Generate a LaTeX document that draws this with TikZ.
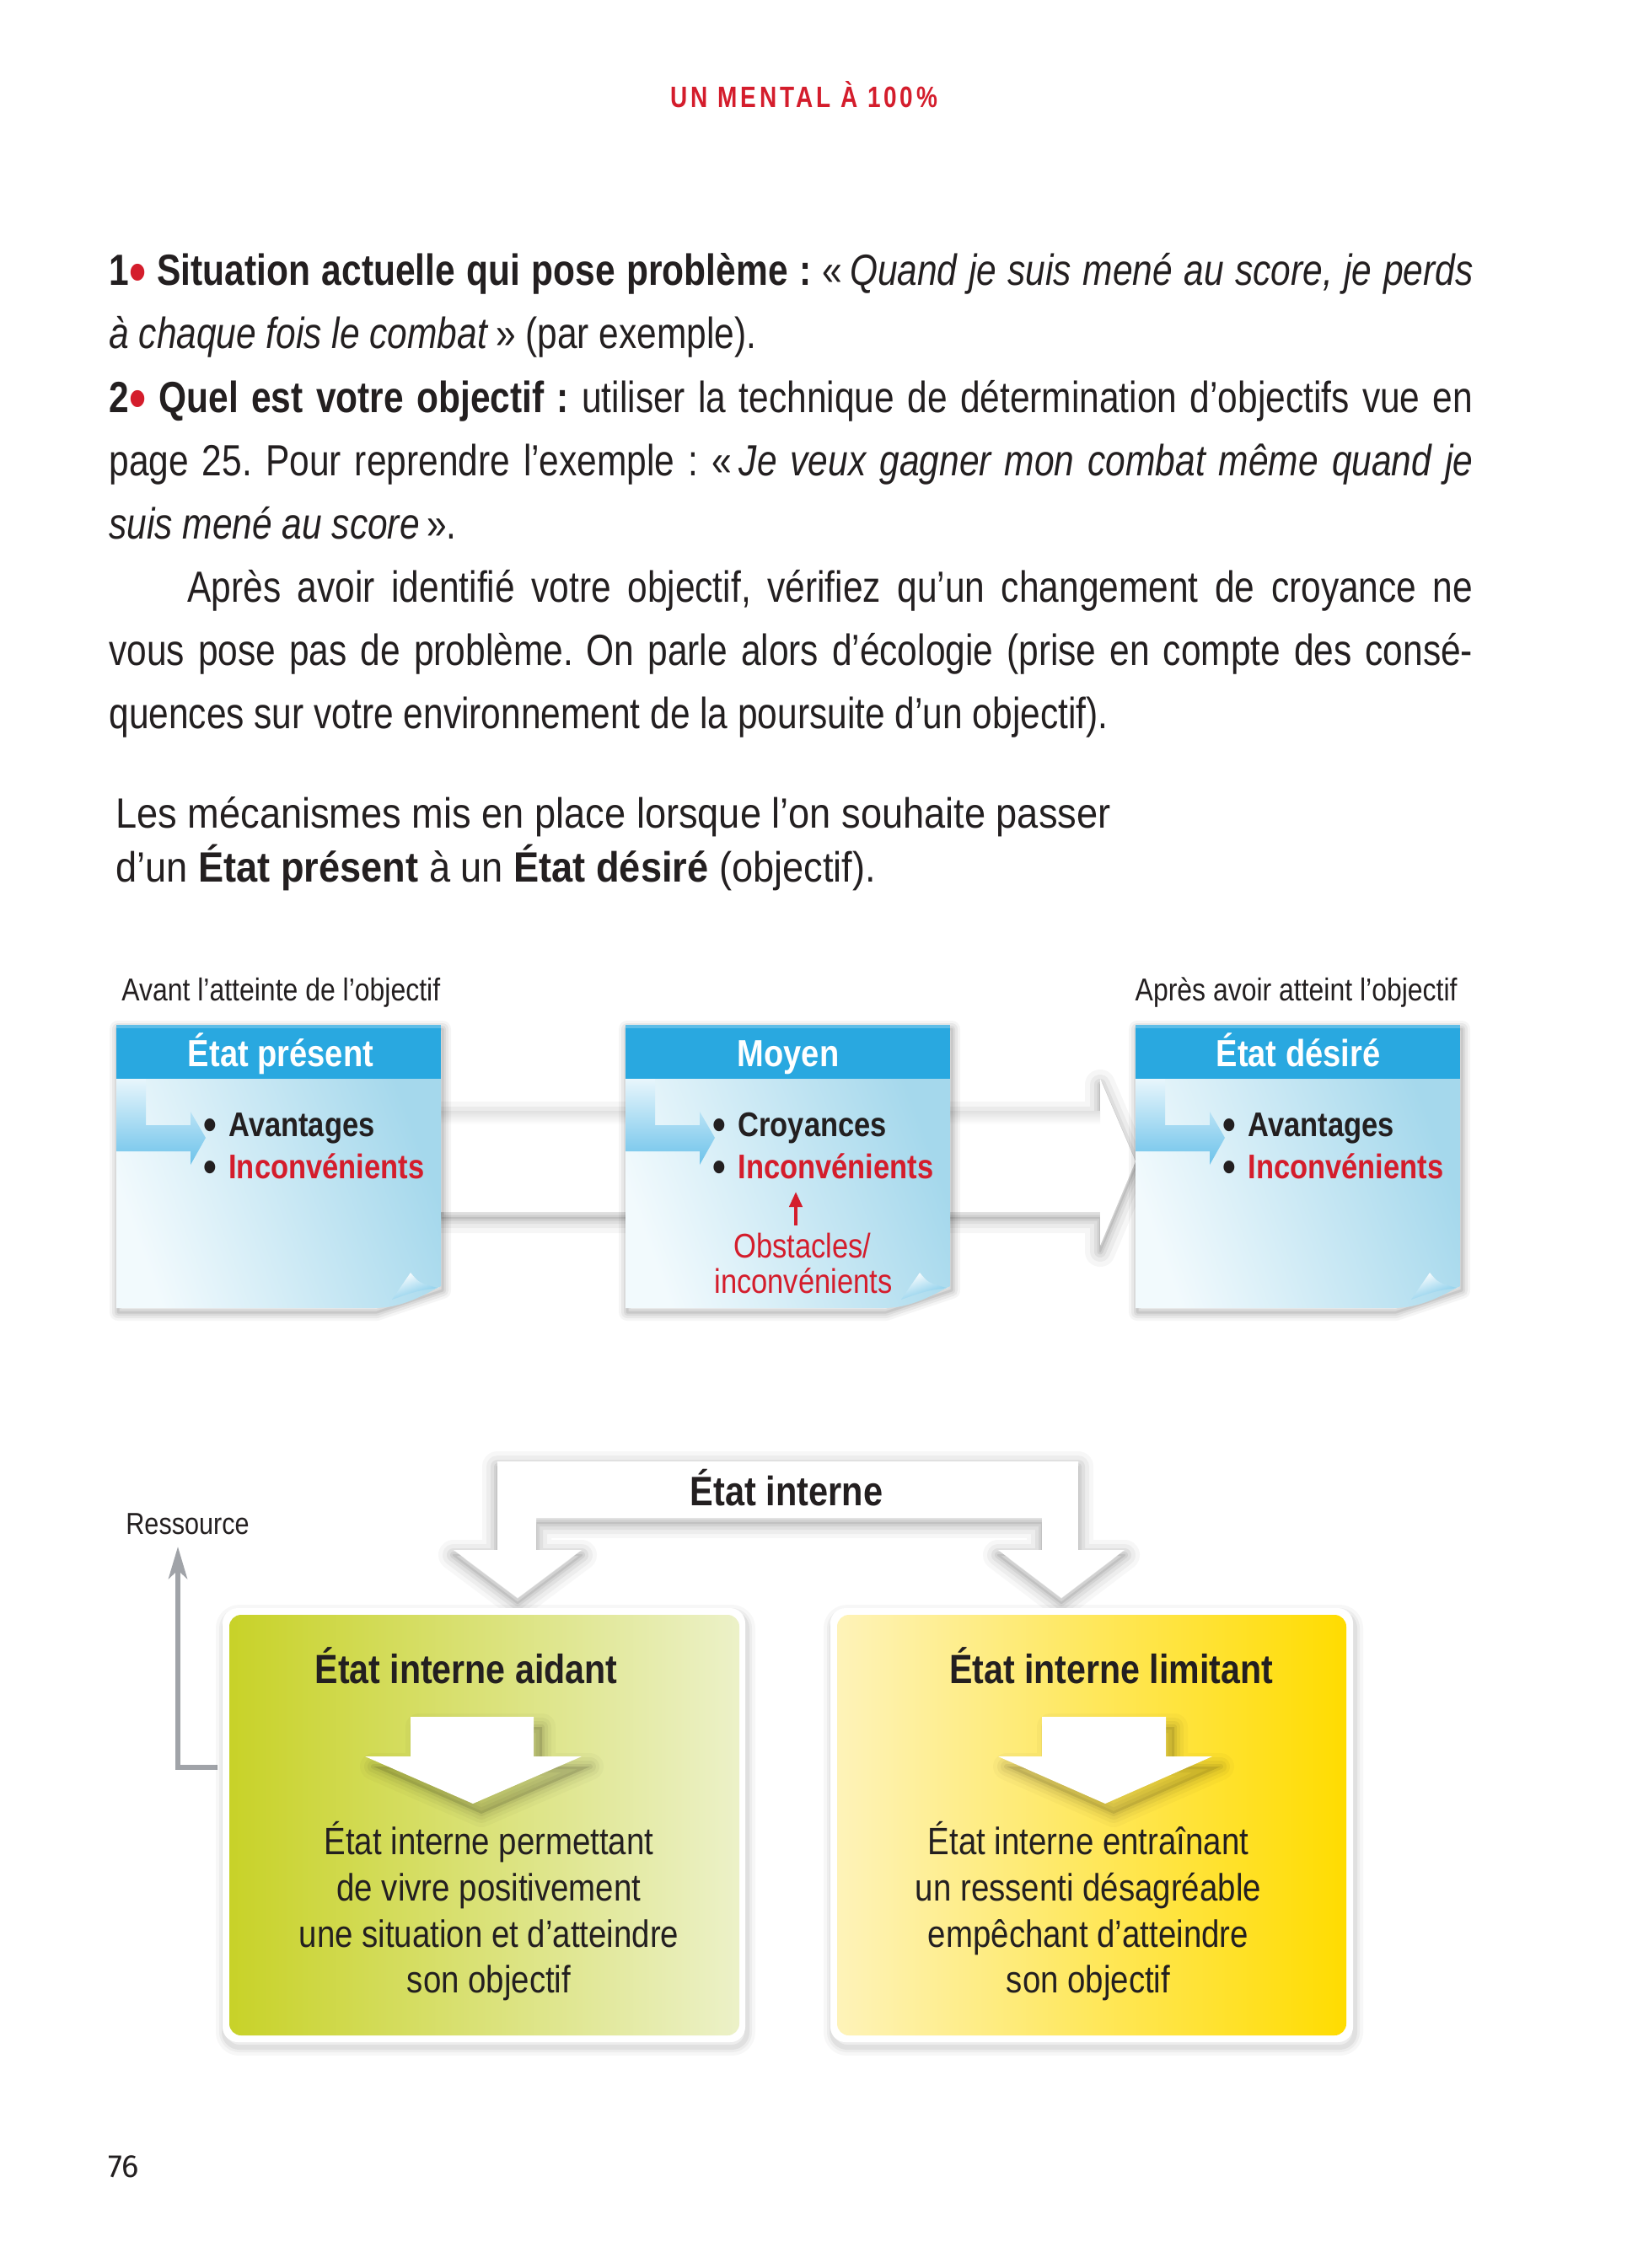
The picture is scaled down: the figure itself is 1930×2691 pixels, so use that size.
\documentclass[tikz,border=0pt]{standalone}
\usepackage{fontspec}
\usepackage{graphicx}
\setmainfont{Liberation Sans}
\newfontfamily\bodyff[FakeStretch=0.82]{Liberation Sans}
\newfontfamily\titff[FakeStretch=0.9]{Liberation Sans}
\newfontfamily\dff[FakeStretch=0.85]{Liberation Sans}
\newfontfamily\headff[FakeStretch=0.8,LetterSpace=11]{Liberation Sans}
\newfontfamily\pageff{Fira Sans}
\usetikzlibrary{arrows.meta}
\frenchspacing
\newdimen\PX \PX=0.5pt
\definecolor{ink}{RGB}{35,31,32}
\definecolor{ired}{RGB}{212,29,44}
\definecolor{hdr}{RGB}{41,168,224}
\definecolor{bodyA}{RGB}{242,250,253}
\definecolor{bodyB}{RGB}{165,216,236}
\definecolor{Lblue}{RGB}{108,194,234}
\definecolor{Ltop}{RGB}{232,246,252}
\definecolor{greenA}{RGB}{200,210,40}
\definecolor{greenB}{RGB}{236,241,200}
\definecolor{yelA}{RGB}{254,243,185}
\definecolor{yelB}{RGB}{255,220,0}
\definecolor{resgray}{RGB}{160,163,168}
\newcommand\redbul{\textcolor{ired}{\raisebox{-0.14em}{\scalebox{1.35}{•}}}}
\newcommand\bigbul{\raisebox{-0.1em}{\scalebox{1.3}{•}}}
\tikzset{
 bodytxt/.style={anchor=base west, inner sep=0pt, text=ink, font=\bodyff\fontsize{25.9pt}{38pt}\selectfont},
 titletxt/.style={anchor=base west, inner sep=0pt, text=ink, font=\titff\fontsize{25.1pt}{32pt}\selectfont},
 lbl/.style={inner sep=0pt, text=ink, font=\dff\fontsize{18.8pt}{22pt}\selectfont},
 hdrtxt/.style={anchor=base, inner sep=0pt, text=white, font=\dff\bfseries\fontsize{22.4pt}{26pt}\selectfont},
 bul/.style={inner sep=0pt, font=\dff\bfseries\fontsize{20.3pt}{24pt}\selectfont},
 obsttxt/.style={anchor=base, inner sep=0pt, text=ired, font=\dff\fontsize{20.3pt}{24pt}\selectfont},
 btitle/.style={anchor=base, inner sep=0pt, text=ink, font=\dff\bfseries\fontsize{24.2pt}{28pt}\selectfont},
 btext/.style={anchor=base, inner sep=0pt, text=ink, font=\dff\fontsize{22.6pt}{27pt}\selectfont},
 glowline/.style={draw=black, line join=round, fill=none},
}
\newcommand\drawtbox[2]{%
  \pgfmathsetmacro\Rx{#1+385}%
  \foreach \w/\o in {10/0.04,7/0.05,4/0.06,1.5/0.08}{%
    \draw[glowline, line width=\w pt, draw opacity=\o, shift={(2,5)}]
      (#1,1216) -- (\Rx,1216) -- (\Rx,1526) -- (\Rx-78,1552) -- (#1,1552) -- cycle;}
  \shade[left color=bodyA, right color=bodyB, shading angle=110]
    (#1,1280) -- (\Rx,1280) -- (\Rx,1526) .. controls (\Rx-20,1536) and (\Rx-45,1552) .. (\Rx-80,1552) -- (#1,1552) -- cycle;
  \fill[hdr] (#1,1216) rectangle (\Rx,1280);
  \fill[white, opacity=0.25] (#1,1216) rectangle (\Rx,1220);
  \shade[top color=Ltop, bottom color=Lblue]
    (#1,1280) -- (#1+35,1280) -- (#1+35,1335) -- (#1+88,1335) -- (#1+88,1319) -- (#1+106,1350)
    -- (#1+88,1382) -- (#1+88,1366) -- (#1,1366) -- cycle;
  \shade[top color=white, bottom color=bodyB!60!hdr, shading angle=20]
    (\Rx-58,1542) -- (\Rx-36,1510) .. controls (\Rx-26,1522) .. (\Rx-4,1528) .. controls (\Rx-30,1532) .. cycle;
  \coordinate (#2nw) at (#1,1216);
  \coordinate (#2se) at (\Rx,1552);
}
\def\bandpath{(523,1318) -- (1305,1318) -- (1305,1280) -- (1347,1378) -- (1305,1478) -- (1305,1438) -- (523,1438) -- cycle}
\def\brackpath{(590,1734) -- (1279,1734) -- (1279,1839) -- (1334,1839) -- (1259,1896) -- (1184,1839) -- (1236,1839) -- (1236,1801) -- (636,1801) -- (636,1839) -- (690,1839) -- (614,1896) -- (538,1839) -- (590,1839) -- cycle}
\def\arrowL{(487,2037) -- (633,2037) -- (633,2084) -- (690,2084) -- (561,2140) -- (433,2084) -- (487,2084) -- cycle}
\def\arrowR{(1236,2037) -- (1383,2037) -- (1383,2084) -- (1438,2084) -- (1311,2140) -- (1184,2084) -- (1236,2084) -- cycle}
\begin{document}
\begin{tikzpicture}[x=0.5pt,y=-0.5pt]
\useasboundingbox (0,0) rectangle (1930,2691);
\fill[white] (0,0) rectangle (1930,2691);

% running head
\node[anchor=base, inner sep=0pt, text=ired, font=\headff\bfseries\fontsize{17.5pt}{20pt}\selectfont] (runhead) at (954,128) {UN MENTAL À 100\%};

% body text
\node[bodytxt] (p1) at (129,339) {\makebox[1618\PX][s]{\textbf{1\redbul\ Situation actuelle qui pose problème~:} «\,\textit{Quand je suis mené au score, je perds}}};
\node[bodytxt] (p2) at (129,414) {\textit{à chaque fois le combat}\,» (par exemple).};
\node[bodytxt] (p3) at (129,489) {\makebox[1618\PX][s]{\textbf{2\redbul\ Quel est votre objectif~:} utiliser la technique de détermination d’objectifs vue en}};
\node[bodytxt] (p4) at (129,564) {\makebox[1618\PX][s]{page 25. Pour reprendre l’exemple~: «\,\textit{Je veux gagner mon combat même quand je}}};
\node[bodytxt] (p5) at (129,639) {\textit{suis mené au score}\,».};
\node[bodytxt] (p6) at (222,714) {\makebox[1525\PX][s]{Après avoir identifié votre objectif, vérifiez qu’un changement de croyance ne}};
\node[bodytxt] (p7) at (129,789) {\makebox[1618\PX][s]{vous pose pas de problème. On parle alors d’écologie (prise en compte des consé-}};
\node[bodytxt] (p8) at (129,864) {quences sur votre environnement de la poursuite d’un objectif).};

% title
\node[titletxt] (t1) at (137,982) {Les mécanismes mis en place lorsque l’on souhaite passer};
\node[titletxt] (t2) at (137,1046) {d’un \textbf{État présent} à un \textbf{État désiré} (objectif).};

% top labels
\node[lbl, anchor=base west] (avant) at (144,1187) {Avant l’atteinte de l’objectif};
\node[lbl, anchor=base east] (apres) at (1729,1187) {Après avoir atteint l’objectif};

% band arrow
\foreach \w/\o in {18/0.035,12/0.045,7/0.055,3.5/0.065,1/0.08}{%
  \draw[glowline, line width=\w pt, draw opacity=\o, shift={(0,7)}] \bandpath;}
\fill[white] \bandpath;
\shade[top color=black!12, bottom color=white] (523,1318) rectangle (1305,1334);

% boxes
\drawtbox{138}{bA}
\drawtbox{742}{bB}
\drawtbox{1347}{bC}

\node[hdrtxt] (hA) at (333,1265) {État présent};
\node[hdrtxt] (hB) at (935,1265) {Moyen};
\node[hdrtxt] (hC) at (1540,1265) {État désiré};

\node[bul, anchor=base, text=ink] (bA1) at (249,1348) {\bigbul};
\node[bul, anchor=base west, text=ink] (tA1) at (271,1348) {Avantages};
\node[bul, anchor=base, text=ink] (bA2) at (249,1398) {\bigbul};
\node[bul, anchor=base west, text=ired] (tA2) at (271,1398) {Inconvénients};

\node[bul, anchor=base, text=ink] (bB1) at (853,1348) {\bigbul};
\node[bul, anchor=base west, text=ink] (tB1) at (875,1348) {Croyances};
\node[bul, anchor=base, text=ink] (bB2) at (853,1398) {\bigbul};
\node[bul, anchor=base west, text=ired] (tB2) at (875,1398) {Inconvénients};

\node[bul, anchor=base, text=ink] (bC1) at (1458,1348) {\bigbul};
\node[bul, anchor=base west, text=ink] (tC1) at (1480,1348) {Avantages};
\node[bul, anchor=base, text=ink] (bC2) at (1458,1398) {\bigbul};
\node[bul, anchor=base west, text=ired] (tC2) at (1480,1398) {Inconvénients};

\node[obsttxt] (ob1) at (952,1492) {Obstacles/};
\node[obsttxt] (ob2) at (953,1534) {inconvénients};
\coordinate (raBot) at (944,1454);
\coordinate (raTop) at (944,1414);
\draw[ired, line width=2pt, -{Triangle[length=9pt,width=7.5pt]}] (raBot) -- (raTop);

% ===== bottom diagram =====
\coordinate (resFoot) at (258,2097);
\coordinate (resCorner) at (211,2097);
\coordinate (resTip) at (211,1835);
\draw[draw=resgray, line width=3.3pt, -{Stealth[length=19pt,width=11pt,inset=5pt]}] (resFoot) -- (resCorner) -- (resTip);
\node[lbl, anchor=base west, font=\dff\fontsize{18pt}{22pt}\selectfont] (res) at (149,1820) {Ressource};

% bracket arrow
\foreach \w/\o in {18/0.03,13/0.04,8/0.05,4/0.06,1.2/0.08}{%
  \draw[glowline, line width=\w pt, draw opacity=\o, shift={(0,6)}] \brackpath;}
\fill[white] \brackpath;
\node[btitle, font=\dff\bfseries\fontsize{24.4pt}{28pt}\selectfont] (einterne) at (933,1786) {État interne};

% boxes outer
\foreach \w/\o in {10/0.03,6/0.04,3/0.05}{%
  \draw[glowline, line width=\w pt, draw opacity=\o, rounded corners=9pt, shift={(2,6)}] (264,1908) rectangle (884,2423);
  \draw[glowline, line width=\w pt, draw opacity=\o, rounded corners=9pt, shift={(2,6)}] (985,1908) rectangle (1605,2423);}
\fill[white, rounded corners=9pt] (264,1908) rectangle (884,2423);
\fill[white, rounded corners=9pt] (985,1908) rectangle (1605,2423);
\shade[left color=greenA, right color=greenB, rounded corners=7pt] (272,1916) rectangle (877,2415);
\shade[left color=yelA, right color=yelB, rounded corners=7pt] (993,1916) rectangle (1597,2415);

% inner arrows with shadow
\foreach \w/\o in {16/0.025,11/0.035,7/0.045,3/0.06}{%
  \draw[glowline, line width=\w pt, draw opacity=\o, shift={(10,12)}] \arrowL;
  \draw[glowline, line width=\w pt, draw opacity=\o, shift={(10,12)}] \arrowR;}
\fill[black, opacity=0.12, shift={(10,12)}] \arrowL;
\fill[black, opacity=0.10, shift={(10,12)}] \arrowR;
\fill[white] \arrowL;
\fill[white] \arrowR;

\node[btitle] (gtitle) at (553,1997) {État interne aidant};
\node[btitle] (ytitle) at (1318,1997) {État interne limitant};

\node[btext] (g1) at (580,2200) {État interne permettant};
\node[btext] (g2) at (580,2255) {de vivre positivement};
\node[btext] (g3) at (580,2310) {une situation et d’atteindre};
\node[btext] (g4) at (580,2364) {son objectif};

\node[btext] (y1) at (1291,2200) {État interne entraînant};
\node[btext] (y2) at (1291,2255) {un ressenti désagréable};
\node[btext] (y3) at (1291,2310) {empêchant d’atteindre};
\node[btext] (y4) at (1291,2364) {son objectif};

% page number
\node[anchor=base west, inner sep=0pt, text=ink, font=\pageff\fontsize{19pt}{20pt}\selectfont] (pnum) at (128,2583) {76};
\end{tikzpicture}
\end{document}
